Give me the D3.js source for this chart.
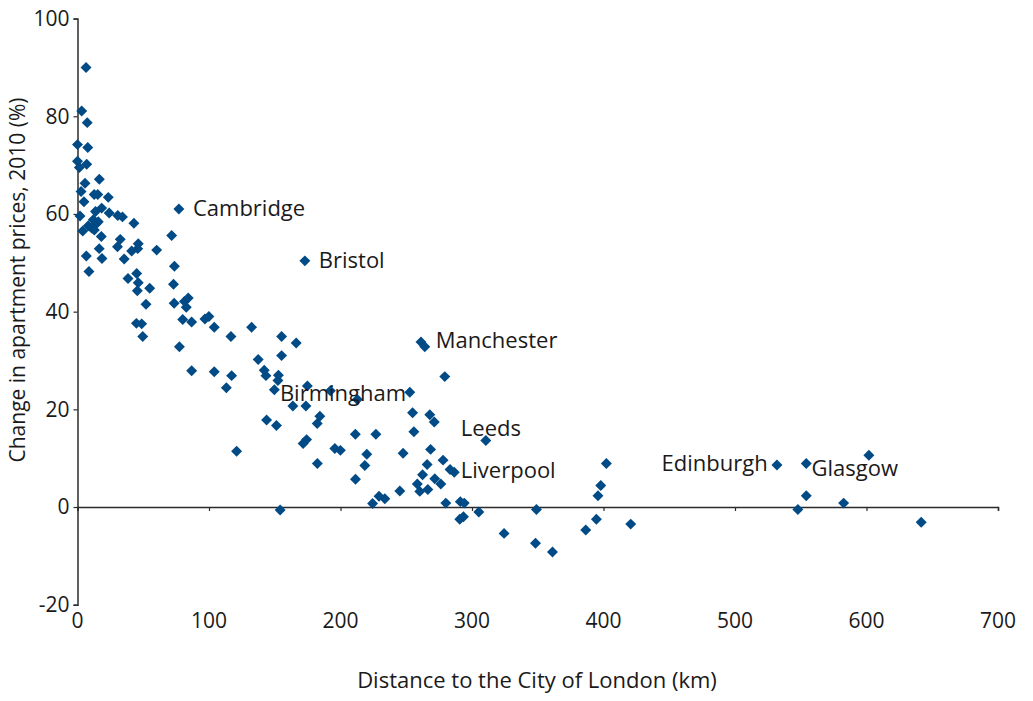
<!DOCTYPE html>
<html>
<head>
<meta charset="utf-8">
<script src="https://cdn.jsdelivr.net/npm/d3@7"></script>
<style>
  html, body { margin: 0; padding: 0; background: #fff; }
  svg { display: block; }
  text { font-family: "Open Sans", "Noto Sans", sans-serif; fill: #1a1a1a; }
</style>
</head>
<body>
<svg id="chart" width="1033" height="701"></svg>
<script>
// Distance to the City of London (km)
const distanceKm = [
  6.5, 3.2, 7.4, 0.0, 7.8, 0.0, 7.0, 1.4, 16.6, 5.7,
  2.7, 12.7, 15.4, 23.4, 4.9, 77.1, 13.7, 18.4, 24.1, 30.6,
  34.2, 1.9, 12.0, 8.2, 14.6, 4.0, 10.8, 12.8, 15.8, 42.9,
  71.6, 18.1, 32.5, 46.2, 45.8, 30.4, 41.2, 60.2, 16.5, 6.7,
  18.6, 35.5, 73.7, 8.7, 38.4, 45.0, 46.2, 45.5, 54.9, 73.0,
  52.1, 73.5, 81.3, 84.2, 82.7, 80.0, 86.8, 96.9, 99.9, 104.0,
  116.7, 132.4, 44.8, 48.8, 49.6, 77.5, 86.8, 104.0, 117.2, 113.2,
  137.4, 172.9, 155.2, 166.3, 155.2, 142.0, 143.3, 152.8, 152.4, 149.7,
  174.8, 192.3, 212.8, 163.8, 173.7, 184.3, 182.3, 143.8, 151.3, 174.2,
  171.6, 121.0, 182.4, 195.7, 199.9, 211.3, 226.9, 220.0, 218.5, 211.4,
  154.1, 224.4, 229.3, 233.7, 245.1, 247.6, 252.7, 261.2, 264.1, 279.3,
  254.8, 267.9, 271.3, 255.8, 268.5, 278.0, 265.9, 262.4, 258.4, 260.3,
  266.4, 271.7, 276.3, 283.3, 286.5, 280.1, 291.1, 294.1, 290.7, 293.5,
  305.2, 310.5, 324.4, 349.0, 348.3, 361.2, 386.5, 394.6, 395.8, 397.9,
  402.2, 420.7, 531.9, 554.2, 601.8, 554.2, 547.8, 582.6, 641.6
];
// Change in apartment prices, 2010 (%)
const priceChange = [
  90.0, 81.1, 78.7, 74.2, 73.6, 70.8, 70.2, 69.5, 67.1, 66.3,
  64.6, 64.0, 64.0, 63.4, 62.5, 61.0, 60.5, 61.2, 60.2, 59.7,
  59.4, 59.6, 58.8, 57.6, 58.1, 56.5, 57.1, 56.7, 58.4, 58.1,
  55.6, 55.4, 54.8, 53.9, 52.9, 53.3, 52.4, 52.6, 52.9, 51.4,
  50.9, 50.8, 49.3, 48.2, 46.8, 47.8, 45.9, 44.3, 44.8, 45.6,
  41.5, 41.7, 42.1, 42.8, 40.9, 38.4, 37.9, 38.5, 39.0, 36.8,
  34.9, 36.8, 37.6, 37.5, 34.9, 32.8, 27.9, 27.7, 26.9, 24.4,
  30.2, 50.4, 34.9, 33.6, 31.0, 28.0, 26.9, 27.0, 25.9, 24.0,
  24.8, 23.8, 22.0, 20.7, 20.7, 18.6, 17.1, 17.8, 16.7, 13.8,
  13.0, 11.4, 8.9, 12.0, 11.6, 14.9, 14.9, 10.8, 8.5, 5.7,
  -0.6, 0.7, 2.2, 1.7, 3.3, 11.0, 23.5, 33.8, 32.8, 26.7,
  19.3, 18.9, 17.4, 15.4, 11.8, 9.6, 8.7, 6.6, 4.7, 3.2,
  3.6, 5.8, 4.7, 7.7, 7.1, 0.8, 1.1, 0.8, -2.5, -2.0,
  -1.0, 13.6, -5.4, -0.5, -7.4, -9.2, -4.7, -2.5, 2.3, 4.4,
  8.9, -3.5, 8.6, 8.9, 10.6, 2.3, -0.5, 0.8, -3.1
];
// City labels (anchor position in data units)
const cityNames  = ["Cambridge", "Bristol", "Manchester", "Birmingham", "Leeds", "Liverpool", "Edinburgh", "Glasgow"];
const cityLabelX = [87.8, 183.5, 272.5, 153.9, 291.5, 291.5, 444.2, 558.2];
const cityLabelY = [61.2, 50.6, 34.2, 23.3, 16.2, 7.6, 9.0, 8.0];

const xTicks = [0, 100, 200, 300, 400, 500, 600, 700];
const yTicks = [-20, 0, 20, 40, 60, 80, 100];
const xTitle = "Distance to the City of London (km)";
const yTitle = "Change in apartment prices, 2010 (%)";

const svg = d3.select("#chart");
const x = d3.scaleLinear().domain([0, 700]).range([77.5, 998]);
const y = d3.scaleLinear().domain([-20, 100]).range([604.7, 18.6]);

const axisColor = "#2b2b2b";
const markColor = "#004a86";

// Horizontal axis at y = 0 with downward ticks, no labels
const xAxis = d3.axisBottom(x).tickValues(xTicks).tickSize(4).tickFormat("");
const gx = svg.append("g").attr("transform", `translate(0,${y(0)})`).call(xAxis);
gx.select(".domain").attr("stroke", axisColor).attr("stroke-width", 1.5);
gx.selectAll(".tick line").attr("stroke", axisColor).attr("stroke-width", 1.2);

// X tick labels at the bottom
svg.append("g").selectAll("text").data(xTicks).join("text")
  .attr("x", d => x(d)).attr("y", 628)
  .attr("text-anchor", "middle")
  .style("font-size", "21px")
  .text(d => String(d));

// Vertical axis
const yAxis = d3.axisLeft(y).tickValues(yTicks).tickSize(4).tickPadding(4).tickFormat(d => String(d));
const gy = svg.append("g").attr("transform", `translate(${x(0)},0)`).call(yAxis);
gy.select(".domain").attr("stroke", axisColor).attr("stroke-width", 1.5);
gy.selectAll(".tick line").attr("stroke", axisColor).attr("stroke-width", 1.2);
gy.selectAll(".tick text")
  .style("font-family", "'Open Sans', 'Noto Sans', sans-serif")
  .style("font-size", "21px").attr("fill", "#1a1a1a");

// Points
const pts = distanceKm.map((d, i) => ({ d, v: priceChange[i] }));
const diamond = d3.symbol().type(d3.symbolSquare).size(60);
svg.append("g").selectAll("path").data(pts).join("path")
  .attr("d", diamond)
  .attr("transform", p => `translate(${x(p.d)},${y(p.v)}) rotate(45)`)
  .attr("fill", markColor);

// City labels
svg.append("g").selectAll("text").data(cityNames).join("text")
  .attr("x", (c, i) => x(cityLabelX[i]))
  .attr("y", (c, i) => y(cityLabelY[i]))
  .attr("dy", "0.35em")
  .style("font-size", "22px")
  .text(c => c);

// Axis titles
svg.append("text")
  .attr("x", 537).attr("y", 688)
  .attr("text-anchor", "middle")
  .style("font-size", "22px")
  .text(xTitle);

svg.append("text")
  .attr("transform", "translate(25,280) rotate(-90)")
  .attr("text-anchor", "middle")
  .style("font-size", "21px")
  .text(yTitle);
</script>
</body>
</html>
